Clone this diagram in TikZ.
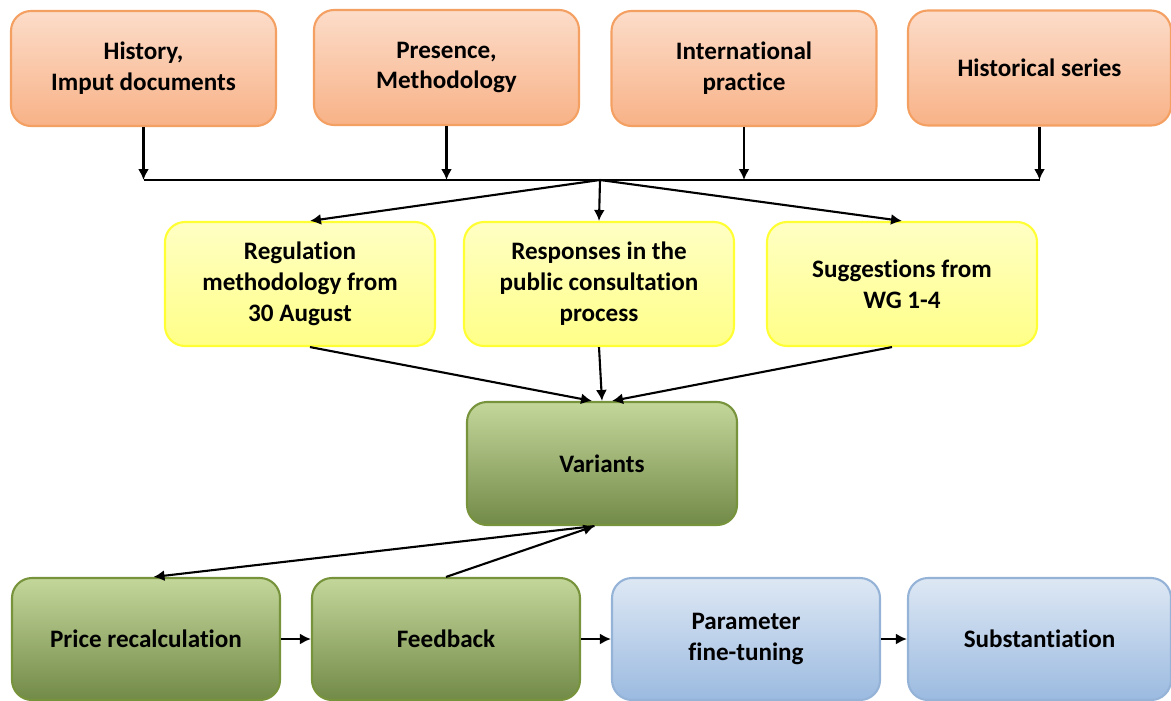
\documentclass[tikz,border=0pt]{standalone}
\usepackage{fontspec}
\setmainfont{Carlito}[Ligatures=NoCommon]
\usetikzlibrary{arrows.meta}
\definecolor{orange-line}{HTML}{F4A062}
\definecolor{orange-top}{HTML}{FCDCC9}
\definecolor{orange-bot}{HTML}{F8B287}
\definecolor{yellow-line}{HTML}{FFFF33}
\definecolor{yellow-top}{HTML}{FFFFC4}
\definecolor{yellow-bot}{HTML}{FFFF88}
\definecolor{green-line}{HTML}{77933C}
\definecolor{green-top}{HTML}{C4D79B}
\definecolor{green-bot}{HTML}{728A48}
\definecolor{blue-line}{HTML}{95B3D7}
\definecolor{blue-top}{HTML}{DEE8F4}
\definecolor{blue-bot}{HTML}{9BBAE0}

\begin{document}
\begin{tikzpicture}[>={Latex[length=2.2mm,width=2.2mm]},
      every node/.style={font=\bfseries\fontsize{14.3}{17.6}\selectfont},
      link/.style={->, line width=1.2pt},
      box/.style={draw, line width=1.2pt, rounded corners=0.4cm, align=center,
                  minimum width=5.3cm, minimum height=2.3cm, inner sep=2pt},
      srcbox/.style={box, draw=orange-line, top color=orange-top, bottom color=orange-bot},
      inbox/.style={box, draw=yellow-line, top color=yellow-top, bottom color=yellow-bot,
                    minimum width=5.4cm, minimum height=2.48cm},
      workbox/.style={box, draw=green-line, top color=green-top, bottom color=green-bot,
                      minimum width=5.36cm, minimum height=2.44cm},
      endbox/.style={box, draw=blue-line, top color=blue-top, bottom color=blue-bot,
                     minimum width=5.36cm, minimum height=2.44cm}]
    \useasboundingbox (0,0) rectangle (23.42,-14);

    \node[srcbox] (H1) at (2.87,-1.37) {History,\\Imput documents};
    \node[srcbox] (H2) at (8.93,-1.35) {Presence,\\Methodology};
    \node[srcbox] (H3) at (14.88,-1.37) {International\\practice};
    \node[srcbox, minimum width=5.26cm] (H4) at (20.79,-1.36) {Historical series};

    \node[inbox] (Y1) at (6.0,-5.68) {Regulation\\methodology from\\30 August};
    \node[inbox] (Y2) at (11.98,-5.68) {Responses in the\\public consultation\\process};
    \node[inbox] (Y3) at (18.04,-5.68) {Suggestions from\\WG 1-4};

    \node[workbox, minimum width=5.4cm, minimum height=2.46cm] (V) at (12.04,-9.27) {Variants};

    \node[workbox] (P) at (2.92,-12.78) {Price recalculation};
    \node[workbox] (F) at (8.92,-12.78) {Feedback};
    \node[endbox] (T) at (14.92,-12.78) {Parameter\\fine-tuning};
    \node[endbox, minimum width=5.26cm] (S) at (20.79,-12.78) {Substantiation};

    \coordinate (bus) at (0,-3.6);
    \coordinate (hub) at (12.0,-3.6);
    \coordinate (vs) at ([xshift=-0.15cm]V.south);

    \foreach \i in {1,2,3,4}
      \draw[link] (H\i.south) -- (H\i.south |- bus);
    \draw[line width=1.2pt] (H1.south |- bus) -- (H4.south |- bus);

    \draw[link] (hub) -- ([xshift=0.2cm]Y1.north);
    \draw[link] (hub) -- (Y2.north);
    \draw[link] (hub) -- (Y3.north);

    \draw[link] ([xshift=0.2cm]Y1.south) -- ([xshift=-0.2cm]V.north);
    \draw[link] (Y2.south) -- (V.north);
    \draw[link] ([xshift=-0.2cm]Y3.south) -- ([xshift=0.2cm]V.north);

    \draw[link] (vs) -- ([xshift=0.15cm]P.north);
    \draw[link] (F.north) -- (vs);

    \draw[link] (P) -- (F);
    \draw[link] (F) -- (T);
    \draw[link] (T) -- (S);
  \end{tikzpicture}
\end{document}
